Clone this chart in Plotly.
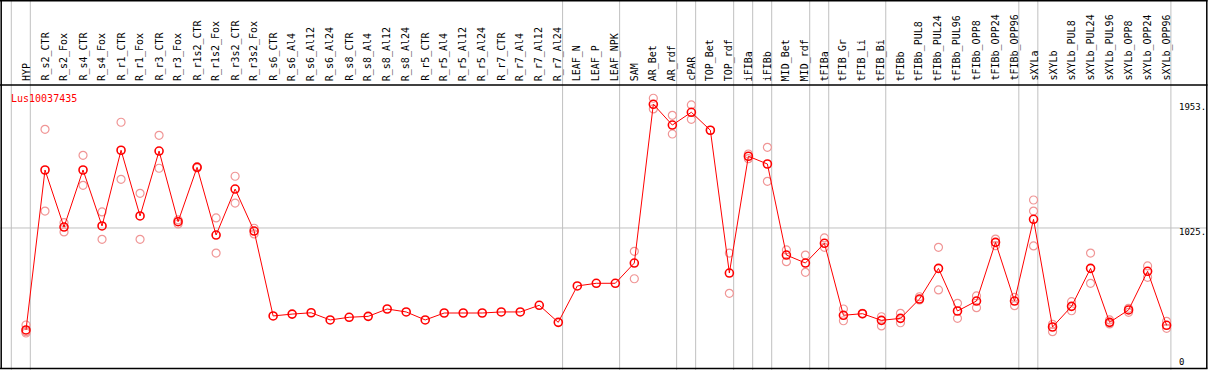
import plotly.graph_objects as go

categories = ["HYP", "R_s2_CTR", "R_s2_Fox", "R_s4_CTR", "R_s4_Fox", "R_r1_CTR", "R_r1_Fox",
              "R_r3_CTR", "R_r3_Fox", "R_r1s2_CTR", "R_r1s2_Fox", "R_r3s2_CTR", "R_r3s2_Fox",
              "R_s6_CTR", "R_s6_Al4", "R_s6_Al12", "R_s6_Al24", "R_s8_CTR", "R_s8_Al4", "R_s8_Al12",
              "R_s8_Al24", "R_r5_CTR", "R_r5_Al4", "R_r5_Al12", "R_r5_Al24", "R_r7_CTR", "R_r7_Al4",
              "R_r7_Al12", "R_r7_Al24", "LEAF_N", "LEAF_P", "LEAF_NPK", "SAM", "AR_Bet", "AR_rdf",
              "cPAR", "TOP_Bet", "TOP_rdf", "iFIBa", "iFIBb", "MID_Bet", "MID_rdf", "tFIBa",
              "tFIB_Gr", "tFIB_Li", "tFIB_Bi", "tFIBb", "tFIBb_PUL8", "tFIBb_PUL24", "tFIBb_PUL96",
              "tFIBb_OPP8", "tFIBb_OPP24", "tFIBb_OPP96", "sXYLa", "sXYLb", "sXYLb_PUL8",
              "sXYLb_PUL24", "sXYLb_PUL96", "sXYLb_OPP8", "sXYLb_OPP24", "sXYLb_OPP96"]

means = [260, 1460, 1032, 1460, 1040, 1608, 1115, 1602, 1072, 1480, 972, 1317, 1002,
         365, 379, 389, 335, 355, 362, 417, 395, 335, 387, 387, 387, 395, 395, 445, 317,
         590, 610, 610, 762, 1953, 1797, 1893, 1758, 687, 1563, 1505, 822, 762, 910,
         370, 382, 332, 347, 492, 722, 402, 477, 917, 477, 1090, 282, 437, 722, 317, 410, 700, 295]

replicates = [[297, 247, 237], [1765, 1152], [1065, 995], [1570, 1345], [1145, 940],
              [1818, 1390], [1285, 940], [1720, 1473], [1085, 1055], [1485, 1475],
              [1100, 837], [1413, 1212], [1023, 980],
              [], [], [], [], [], [], [], [], [], [], [], [], [], [], [], [],
              [], [], [], [850, 644], [1998, 1918], [1870, 1730], [1948, 1840], [1758],
              [837, 535], [1545, 1580], [1630, 1375], [860, 772], [822, 692], [950, 880],
              [417, 329], [380, 385], [359, 290], [385, 314], [509, 485], [880, 560],
              [460, 347], [515, 427], [942, 892], [505, 442], [1235, 1152, 890],
              [302, 247], [472, 404], [837, 610], [335, 305], [422, 392], [740, 655], [325, 272]]

group_breaks = [-1, 0, 28, 31, 34, 35, 37, 38, 39, 41, 42, 45, 52, 53, 60]
tick_values = [1953, 1025, 0]
tick_labels = ["1953.", "1025.", "0"]
title = "Lus10037435"

W, H = 1209, 370
X0, DX = 26.0, 19.01          # pixel of first category, pixel step
Y0, VPP = 364.6, 7.502        # pixel of value 0, value per pixel

xr = [-X0 / DX, (W - X0) / DX]
yr = [-(H - Y0) * VPP, Y0 * VPP]

def px2x(p):
    return (p - X0) / DX

def py2v(p):
    return (Y0 - p) * VPP

idx = list(range(len(categories)))
rx, ry = [], []
for i, reps in enumerate(replicates):
    for v in reps:
        rx.append(i)
        ry.append(v)

fig = go.Figure()
fig.add_trace(go.Scatter(x=rx, y=ry, mode="markers",
                         marker=dict(symbol="circle-open", size=8, color="rgb(240,150,150)",
                                     line=dict(width=1.2, color="rgb(240,150,150)")),
                         hoverinfo="skip", showlegend=False))
fig.add_trace(go.Scatter(x=idx, y=means, mode="lines+markers",
                         line=dict(color="#ff0000", width=1),
                         marker=dict(symbol="circle-open", size=8, color="#ff0000",
                                     line=dict(width=1.6, color="#ff0000")),
                         showlegend=False))

shapes = []
for b in group_breaks:
    xv = b + 4.3 / DX
    shapes.append(dict(type="line", xref="x", yref="paper", x0=xv, x1=xv, y0=0, y1=1,
                       line=dict(color="#c0c0c0", width=1), layer="below"))
shapes.append(dict(type="line", xref="paper", yref="y", x0=0, x1=1207 / W, y0=1025, y1=1025,
                   line=dict(color="#c0c0c0", width=1), layer="below"))
blk = dict(color="black", width=1.5)
shapes.append(dict(type="line", xref="paper", yref="paper", x0=0, x1=1207.5 / W, y0=1 - 0.75 / H, y1=1 - 0.75 / H, line=blk))
shapes.append(dict(type="line", xref="paper", yref="paper", x0=0, x1=1207.5 / W, y0=1 - 85 / H, y1=1 - 85 / H, line=blk))
shapes.append(dict(type="line", xref="paper", yref="paper", x0=0, x1=1207.5 / W, y0=1 - 368.5 / H, y1=1 - 368.5 / H, line=blk))
shapes.append(dict(type="line", xref="paper", yref="paper", x0=1.2 / W, x1=1.2 / W, y0=1 - 368.5 / H, y1=1, line=blk))
shapes.append(dict(type="line", xref="paper", yref="paper", x0=1206.8 / W, x1=1206.8 / W, y0=1 - 368.5 / H, y1=1, line=blk))

annotations = []
for i, c in enumerate(categories):
    annotations.append(dict(x=i, xref="x", y=1 - 83 / H, yref="paper", text=c, showarrow=False,
                            textangle=-90, xanchor="center", yanchor="bottom",
                            font=dict(family="DejaVu Sans Mono", size=10, color="black")))
annotations.append(dict(x=px2x(9), xref="x", y=py2v(98), yref="y", text=title, showarrow=False,
                        xanchor="left", yanchor="middle",
                        font=dict(family="DejaVu Sans Mono", size=10, color="#ff0000")))
tick_shift = {1953: -2.5, 1025: -4.5, 0: 2.5}
for v, t in zip(tick_values, tick_labels):
    annotations.append(dict(x=px2x(1177), xref="x", y=v, yref="y", text=t, showarrow=False,
                            xanchor="left", yanchor="middle", yshift=tick_shift[v],
                            font=dict(family="DejaVu Sans Mono", size=9, color="black")))

fig.update_layout(width=W, height=H, margin=dict(l=0, r=0, t=0, b=0),
                  paper_bgcolor="white", plot_bgcolor="white",
                  xaxis=dict(range=xr, visible=False, fixedrange=True),
                  yaxis=dict(range=yr, visible=False, fixedrange=True),
                  shapes=shapes, annotations=annotations, showlegend=False)

fig.write_html("out.html", config={"displayModeBar": False},
               post_script="document.body.style.margin='0';document.body.style.padding='0';"
                           "document.body.style.overflow='hidden';")
